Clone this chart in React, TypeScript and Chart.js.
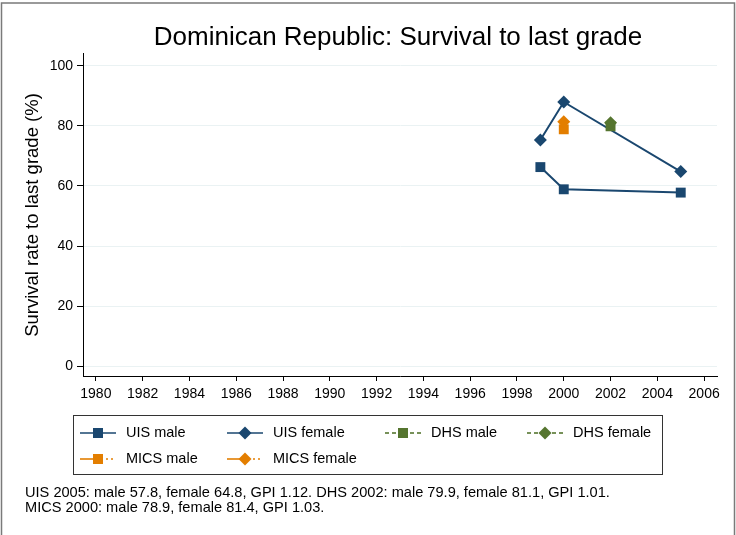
import React, { useEffect, useRef } from "react";
import { Chart, registerables } from "chart.js";
Chart.register(...registerables);

const titleText = "Dominican Republic: Survival to last grade";
const yAxisTitle = "Survival rate to last grade (%)";
const noteLines = [
  "UIS 2005: male 57.8, female 64.8, GPI 1.12. DHS 2002: male 79.9, female 81.1, GPI 1.01.",
  "MICS 2000: male 78.9, female 81.4, GPI 1.03.",
];

const uisYears = [1999, 2000, 2005];
const uisMale = [66.3, 58.9, 57.8];
const uisFemale = [75.3, 88.0, 64.8];
const dhsYears = [2002];
const dhsMale = [79.9];
const dhsFemale = [81.1];
const micsYears = [2000];
const micsMale = [78.9];
const micsFemale = [81.4];

const xTicks = [1980, 1982, 1984, 1986, 1988, 1990, 1992, 1994, 1996, 1998, 2000, 2002, 2004, 2006];
const yTicks = [0, 20, 40, 60, 80, 100];

const NAVY = "#1a476f";
const GREEN = "#55752f";
const ORANGE = "#e37e00";
const FONT = "'Liberation Sans', Arial, Helvetica, sans-serif";

type Item = { label: string; color: string; marker: "rect" | "rectRot"; style: "solid" | "dash" | "dashdot" };
const legendRow1: Item[] = [
  { label: "UIS male", color: NAVY, marker: "rect", style: "solid" },
  { label: "UIS female", color: NAVY, marker: "rectRot", style: "solid" },
  { label: "DHS male", color: GREEN, marker: "rect", style: "dash" },
  { label: "DHS female", color: GREEN, marker: "rectRot", style: "dash" },
];
const legendRow2: Item[] = [
  { label: "MICS male", color: ORANGE, marker: "rect", style: "dashdot" },
  { label: "MICS female", color: ORANGE, marker: "rectRot", style: "dashdot" },
];

const pts = (xs: number[], ys: number[]) => xs.map((x, i) => ({ x, y: ys[i] }));

function drawMarker(ctx: CanvasRenderingContext2D, m: string, x: number, y: number, color: string) {
  ctx.save();
  ctx.fillStyle = color;
  ctx.beginPath();
  if (m === "rect") {
    ctx.rect(x - 5, y - 5, 10, 10);
  } else {
    ctx.moveTo(x, y - 6.5);
    ctx.lineTo(x + 6.5, y);
    ctx.lineTo(x, y + 6.5);
    ctx.lineTo(x - 6.5, y);
    ctx.closePath();
  }
  ctx.fill();
  ctx.restore();
}

function drawSample(ctx: CanvasRenderingContext2D, it: Item, x0: number, y: number) {
  ctx.save();
  ctx.strokeStyle = it.color;
  ctx.lineWidth = 1.6;
  const seg = (a: number, b: number) => {
    ctx.beginPath();
    ctx.moveTo(a, y);
    ctx.lineTo(b, y);
    ctx.stroke();
  };
  if (it.style === "solid") {
    seg(x0, x0 + 36);
  } else if (it.style === "dash") {
    seg(x0, x0 + 4);
    seg(x0 + 7, x0 + 11);
    seg(x0 + 25, x0 + 29);
    seg(x0 + 32, x0 + 36);
  } else {
    seg(x0, x0 + 20);
    seg(x0 + 26, x0 + 28);
    seg(x0 + 31, x0 + 33);
  }
  ctx.restore();
  drawMarker(ctx, it.marker, x0 + 18, y, it.color);
}

const decorPlugin = {
  id: "decor",
  afterDraw(chart: any) {
    const ctx: CanvasRenderingContext2D = chart.ctx;
    ctx.save();
    // outer frame
    ctx.strokeStyle = "#7a7a7a";
    ctx.lineWidth = 1.5;
    ctx.beginPath();
    ctx.moveTo(1.5, 540);
    ctx.lineTo(1.5, 3);
    ctx.lineTo(734.5, 3);
    ctx.lineTo(734.5, 540);
    ctx.stroke();

    // title
    ctx.fillStyle = "#000";
    ctx.font = `26px ${FONT}`;
    ctx.textAlign = "center";
    ctx.textBaseline = "middle";
    ctx.fillText(titleText, 398, 38);

    // y axis title
    ctx.save();
    ctx.translate(33, 215);
    ctx.rotate(-Math.PI / 2);
    ctx.font = `18.5px ${FONT}`;
    ctx.fillText(yAxisTitle, 0, 0);
    ctx.restore();

    // legend box
    ctx.strokeStyle = "#333";
    ctx.lineWidth = 1;
    ctx.strokeRect(73.5, 415.5, 589, 59);
    const cols = [80, 227, 385, 527];
    ctx.font = `14.5px ${FONT}`;
    ctx.textAlign = "left";
    ctx.textBaseline = "middle";
    legendRow1.forEach((it, i) => {
      drawSample(ctx, it, cols[i], 433);
      ctx.fillStyle = "#000";
      ctx.fillText(it.label, cols[i] + 46, 433);
    });
    legendRow2.forEach((it, i) => {
      drawSample(ctx, it, cols[i], 459);
      ctx.fillStyle = "#000";
      ctx.fillText(it.label, cols[i] + 46, 459);
    });

    // note
    ctx.font = `14.6px ${FONT}`;
    ctx.fillStyle = "#000";
    ctx.fillText(noteLines[0], 25, 493);
    ctx.fillText(noteLines[1], 25, 508);
    ctx.restore();
  },
};

export default function App() {
  const ref = useRef<HTMLCanvasElement>(null);
  useEffect(() => {
    if (!ref.current) return;
    const chart = new Chart(ref.current, {
      type: "line",
      data: {
        datasets: [
          { label: "UIS male", data: pts(uisYears, uisMale), borderColor: NAVY, backgroundColor: NAVY, borderWidth: 2, pointStyle: "rect", pointRadius: 7, pointBorderWidth: 0, order: 6 },
          { label: "UIS female", data: pts(uisYears, uisFemale), borderColor: NAVY, backgroundColor: NAVY, borderWidth: 2, pointStyle: "rectRot", pointRadius: 6.5, pointBorderWidth: 0, order: 5 },
          { label: "DHS male", data: pts(dhsYears, dhsMale), borderColor: GREEN, backgroundColor: GREEN, borderWidth: 2, borderDash: [4, 3], pointStyle: "rect", pointRadius: 7, pointBorderWidth: 0, order: 4 },
          { label: "DHS female", data: pts(dhsYears, dhsFemale), borderColor: GREEN, backgroundColor: GREEN, borderWidth: 2, borderDash: [4, 3], pointStyle: "rectRot", pointRadius: 6.5, pointBorderWidth: 0, order: 3 },
          { label: "MICS male", data: pts(micsYears, micsMale), borderColor: ORANGE, backgroundColor: ORANGE, borderWidth: 2, pointStyle: "rect", pointRadius: 7, pointBorderWidth: 0, order: 2 },
          { label: "MICS female", data: pts(micsYears, micsFemale), borderColor: ORANGE, backgroundColor: ORANGE, borderWidth: 2, pointStyle: "rectRot", pointRadius: 6.5, pointBorderWidth: 0, order: 1 },
        ],
      },
      options: {
        animation: false,
        responsive: false,
        devicePixelRatio: 1,
        events: [],
        layout: { padding: { left: 0, top: 53, right: 19, bottom: 129 } },
        plugins: { legend: { display: false }, title: { display: false }, tooltip: { enabled: false } },
        scales: {
          x: {
            type: "linear",
            min: 1979.45,
            max: 2006.55,
            afterBuildTicks: (s: any) => { s.ticks = xTicks.map((v) => ({ value: v })); },
            afterFit: (s: any) => { s.height = 30; },
            ticks: { color: "#000", font: { family: FONT, size: 14 }, padding: 5, maxRotation: 0, autoSkip: false, callback: (v: any) => String(v) },
            grid: { drawOnChartArea: false, drawTicks: true, tickLength: 5, tickColor: "#000", tickWidth: 1 },
            border: { color: "#000", width: 1 },
          },
          y: {
            type: "linear",
            min: -3.33,
            max: 104.33,
            afterBuildTicks: (s: any) => { s.ticks = yTicks.map((v) => ({ value: v })); },
            afterFit: (s: any) => { s.width = 83; },
            ticks: { color: "#000", font: { family: FONT, size: 14 }, padding: 4, callback: (v: any) => String(v) },
            grid: { color: "#eaf2f3", lineWidth: 1, drawTicks: true, tickLength: 6, tickColor: "#000", tickWidth: 1 },
            border: { color: "#000", width: 1 },
          },
        },
      },
      plugins: [decorPlugin],
    } as any);
    return () => chart.destroy();
  }, []);
  return (
    <div style={{ position: "absolute", left: 0, top: 0, width: 736, height: 535, background: "#fff" }}>
      <canvas ref={ref} width={736} height={535} style={{ width: 736, height: 535, display: "block" }} />
    </div>
  );
}
